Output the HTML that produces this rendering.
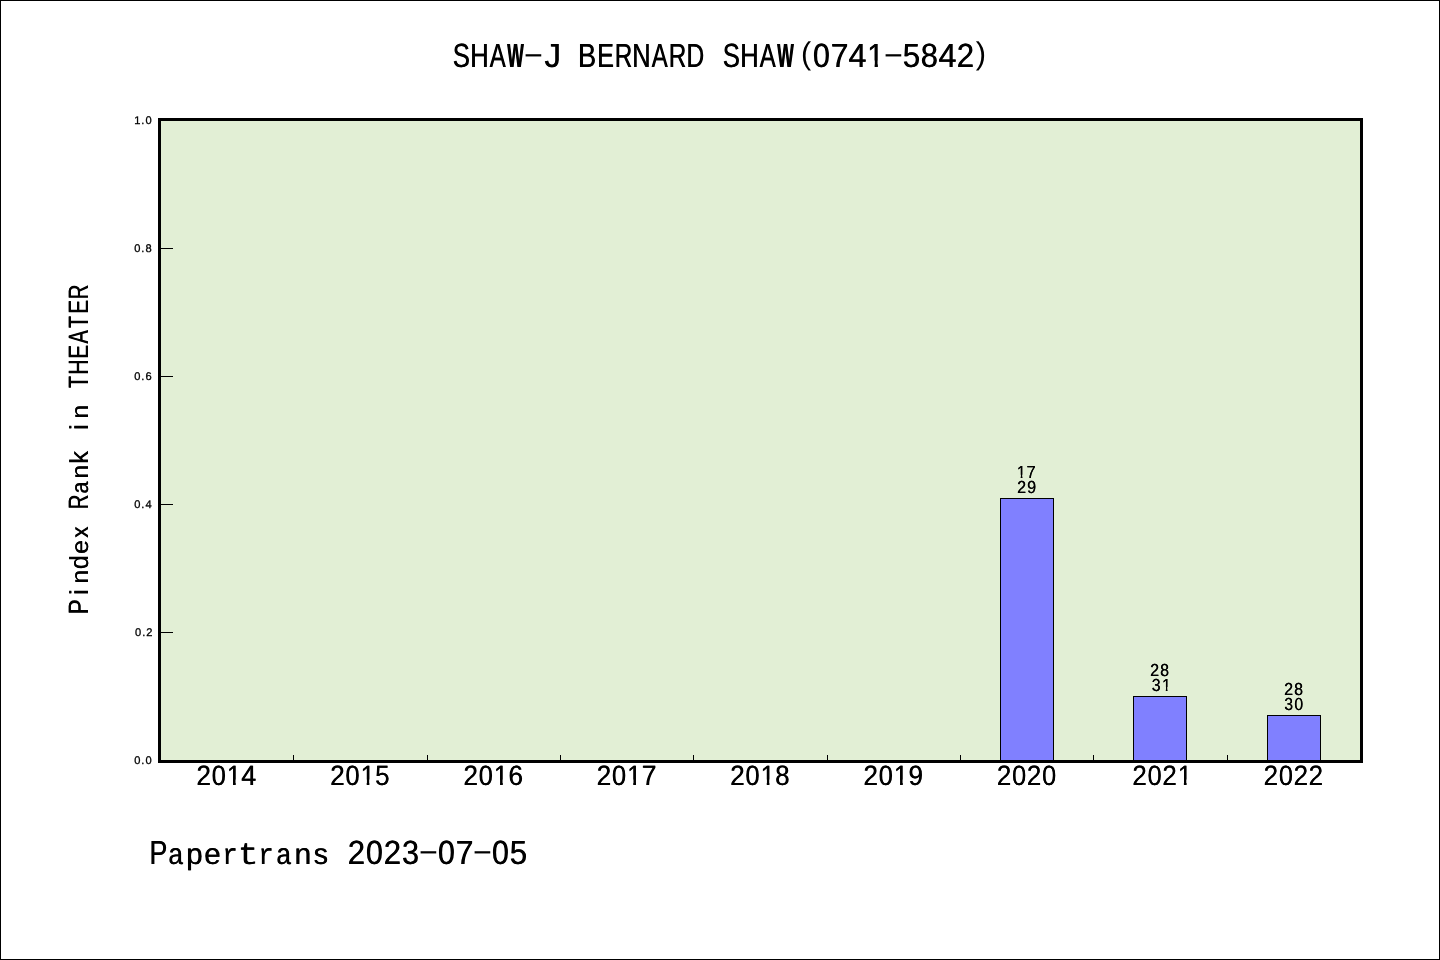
<!DOCTYPE html>
<html lang="en">
<head>
<meta charset="utf-8">
<title>SHAW-J BERNARD SHAW (0741-5842)</title>
<style>
html,body{margin:0;padding:0;background:#fff}
body{width:1440px;height:960px;overflow:hidden}
svg{display:block;will-change:transform}
svg{font-family:"Liberation Sans",sans-serif;fill:#000;text-rendering:geometricPrecision}
.tk{stroke:#000;stroke-width:1}
.yt{font-size:11.1px;text-anchor:middle;stroke:#000;stroke-width:.3px}
</style>
</head>
<body>
<svg width="1440" height="960" viewBox="0 0 1440 960">
<defs>
<clipPath id="one280"><path d="M-27.98 -27.98H27.98V-5.60H9.55V2.80H7.00V-5.60H-27.98Z"/></clipPath>
<clipPath id="one174"><path d="M-17.43 -17.43H17.43V-3.49H5.96V1.74H4.34V-3.49H-17.43Z"/></clipPath>
<clipPath id="one336"><path d="M-33.59 -33.59H33.59V-6.72H11.46V3.36H8.41V-6.72H-33.59Z"/></clipPath>
</defs>
<rect x="0.5" y="0.5" width="1439" height="959" fill="#fff" stroke="#000" stroke-width="1"/>
<rect x="159.5" y="119.5" width="1202" height="642" fill="#e2efd5"/>
<rect x="1000.5" y="498.5" width="53" height="263.0" fill="#8080ff" stroke="#000" stroke-width="1"/>
<rect x="1133.5" y="696.5" width="53" height="65.0" fill="#8080ff" stroke="#000" stroke-width="1"/>
<rect x="1267.5" y="715.5" width="53" height="46.0" fill="#8080ff" stroke="#000" stroke-width="1"/>
<line x1="293.5" y1="755" x2="293.5" y2="761" class="tk"/>
<line x1="427.5" y1="755" x2="427.5" y2="761" class="tk"/>
<line x1="560.5" y1="755" x2="560.5" y2="761" class="tk"/>
<line x1="693.5" y1="755" x2="693.5" y2="761" class="tk"/>
<line x1="827.5" y1="755" x2="827.5" y2="761" class="tk"/>
<line x1="960.5" y1="755" x2="960.5" y2="761" class="tk"/>
<line x1="1093.5" y1="755" x2="1093.5" y2="761" class="tk"/>
<line x1="1227.5" y1="755" x2="1227.5" y2="761" class="tk"/>
<line x1="160" y1="248.5" x2="173" y2="248.5" class="tk"/>
<line x1="160" y1="376.5" x2="173" y2="376.5" class="tk"/>
<line x1="160" y1="504.5" x2="173" y2="504.5" class="tk"/>
<line x1="160" y1="632.5" x2="173" y2="632.5" class="tk"/>
<rect x="159.5" y="119.5" width="1202" height="642" fill="none" stroke="#000" stroke-width="3"/>
<text class="yt" x="137.4 142.8 148.7" y="124.1">1.0</text>
<text class="yt" x="137.4 142.8 148.7" y="252.1">0.8</text>
<text class="yt" x="137.4 142.8 148.7" y="380.1">0.6</text>
<text class="yt" x="137.4 142.8 148.7" y="508.1">0.4</text>
<text class="yt" x="138.2 143.7 149.4" y="636.1">0.2</text>
<text class="yt" x="137.4 142.8 148.7" y="764.1">0.0</text>
<g class="m"><g id="m1"><text transform="translate(196.28 785.00) scale(0.9281 1)" font-size="27.98">2</text><text transform="translate(211.57 785.00) scale(0.9024 1)" font-size="27.98">0</text><text transform="translate(226.77 785.00) scale(0.8905 1)" font-size="27.98" clip-path="url(#one280)">1</text><text transform="translate(241.11 785.00) scale(0.9646 1)" font-size="27.98">4</text></g><use href="#m1" x="0.42"/></g>
<g class="m"><g id="m2"><text transform="translate(329.96 785.00) scale(0.9281 1)" font-size="27.98">2</text><text transform="translate(345.25 785.00) scale(0.9024 1)" font-size="27.98">0</text><text transform="translate(360.46 785.00) scale(0.8905 1)" font-size="27.98" clip-path="url(#one280)">1</text><text transform="translate(374.94 785.00) scale(0.9291 1)" font-size="27.98">5</text></g><use href="#m2" x="0.42"/></g>
<g class="m"><g id="m3"><text transform="translate(463.33 785.00) scale(0.9281 1)" font-size="27.98">2</text><text transform="translate(478.62 785.00) scale(0.9024 1)" font-size="27.98">0</text><text transform="translate(493.83 785.00) scale(0.8905 1)" font-size="27.98" clip-path="url(#one280)">1</text><text transform="translate(508.25 785.00) scale(0.9314 1)" font-size="27.98">6</text></g><use href="#m3" x="0.42"/></g>
<g class="m"><g id="m4"><text transform="translate(596.57 785.00) scale(0.9281 1)" font-size="27.98">2</text><text transform="translate(611.86 785.00) scale(0.9024 1)" font-size="27.98">0</text><text transform="translate(627.07 785.00) scale(0.8905 1)" font-size="27.98" clip-path="url(#one280)">1</text><text transform="translate(641.60 785.00) scale(0.9489 1)" font-size="27.98">7</text></g><use href="#m4" x="0.42"/></g>
<g class="m"><g id="m5"><text transform="translate(730.03 785.00) scale(0.9281 1)" font-size="27.98">2</text><text transform="translate(745.32 785.00) scale(0.9024 1)" font-size="27.98">0</text><text transform="translate(760.53 785.00) scale(0.8905 1)" font-size="27.98" clip-path="url(#one280)">1</text><text transform="translate(775.05 785.00) scale(0.9193 1)" font-size="27.98">8</text></g><use href="#m5" x="0.42"/></g>
<g class="m"><g id="m6"><text transform="translate(863.33 785.00) scale(0.9281 1)" font-size="27.98">2</text><text transform="translate(878.62 785.00) scale(0.9024 1)" font-size="27.98">0</text><text transform="translate(893.83 785.00) scale(0.8905 1)" font-size="27.98" clip-path="url(#one280)">1</text><text transform="translate(908.36 785.00) scale(0.9304 1)" font-size="27.98">9</text></g><use href="#m6" x="0.42"/></g>
<g class="m"><g id="m7"><text transform="translate(996.63 785.00) scale(0.9281 1)" font-size="27.98">2</text><text transform="translate(1011.92 785.00) scale(0.9024 1)" font-size="27.98">0</text><text transform="translate(1026.63 785.00) scale(0.9281 1)" font-size="27.98">2</text><text transform="translate(1041.92 785.00) scale(0.9024 1)" font-size="27.98">0</text></g><use href="#m7" x="0.42"/></g>
<g class="m"><g id="m8"><text transform="translate(1132.15 785.00) scale(0.9281 1)" font-size="27.98">2</text><text transform="translate(1147.44 785.00) scale(0.9024 1)" font-size="27.98">0</text><text transform="translate(1162.15 785.00) scale(0.9281 1)" font-size="27.98">2</text><text transform="translate(1177.65 785.00) scale(0.8905 1)" font-size="27.98" clip-path="url(#one280)">1</text></g><use href="#m8" x="0.42"/></g>
<g class="m"><g id="m9"><text transform="translate(1263.40 785.00) scale(0.9281 1)" font-size="27.98">2</text><text transform="translate(1278.69 785.00) scale(0.9024 1)" font-size="27.98">0</text><text transform="translate(1293.40 785.00) scale(0.9281 1)" font-size="27.98">2</text><text transform="translate(1308.40 785.00) scale(0.9281 1)" font-size="27.98">2</text></g><use href="#m9" x="0.42"/></g>
<g class="m"><g id="m10"><text transform="translate(1016.82 478.20) scale(0.9061 1)" font-size="17.43" clip-path="url(#one174)">1</text><text transform="translate(1026.49 478.20) scale(0.9500 1)" font-size="17.43">7</text></g><use href="#m10" x="0.13"/></g>
<g class="m"><g id="m11"><text transform="translate(1017.06 492.60) scale(0.9294 1)" font-size="17.43">2</text><text transform="translate(1027.07 492.60) scale(0.9315 1)" font-size="17.43">9</text></g><use href="#m11" x="0.13"/></g>
<g class="m"><g id="m12"><text transform="translate(1150.08 676.20) scale(0.9294 1)" font-size="17.43">2</text><text transform="translate(1160.08 676.20) scale(0.9203 1)" font-size="17.43">8</text></g><use href="#m12" x="0.13"/></g>
<g class="m"><g id="m13"><text transform="translate(1151.66 690.60) scale(0.9109 1)" font-size="17.43">3</text><text transform="translate(1161.89 690.60) scale(0.9061 1)" font-size="17.43" clip-path="url(#one174)">1</text></g><use href="#m13" x="0.13"/></g>
<g class="m"><g id="m14"><text transform="translate(1284.08 695.20) scale(0.9294 1)" font-size="17.43">2</text><text transform="translate(1294.08 695.20) scale(0.9203 1)" font-size="17.43">8</text></g><use href="#m14" x="0.13"/></g>
<g class="m"><g id="m15"><text transform="translate(1284.20 709.60) scale(0.9109 1)" font-size="17.43">3</text><text transform="translate(1294.25 709.60) scale(0.9034 1)" font-size="17.43">0</text></g><use href="#m15" x="0.13"/></g>
<g class="m"><g id="m16"><text transform="translate(452.58 67.20) scale(0.7653 1)" font-size="33.59">S</text><text transform="translate(469.91 67.20) scale(0.7600 1)" font-size="33.59">H</text><text transform="translate(489.43 67.20) scale(0.7129 1)" font-size="33.59">A</text><text transform="translate(506.92 67.20) scale(0.5218 1)" font-size="33.59" font-weight="bold">W</text></g><use href="#m16" x="0.50"/><text transform="translate(522.72 63.01) scale(2.2204 1)" font-size="28.89">-</text><g id="m17"><text transform="translate(544.19 67.20) scale(0.9827 1)" font-size="33.59">J</text><text transform="translate(577.77 67.20) scale(0.8107 1)" font-size="33.59">B</text><text transform="translate(597.01 67.20) scale(0.7437 1)" font-size="33.59">E</text><text transform="translate(614.38 67.20) scale(0.7240 1)" font-size="33.59">R</text><text transform="translate(631.97 67.20) scale(0.7571 1)" font-size="33.59">N</text><text transform="translate(651.43 67.20) scale(0.7129 1)" font-size="33.59">A</text><text transform="translate(668.38 67.20) scale(0.7240 1)" font-size="33.59">R</text><text transform="translate(686.37 67.20) scale(0.7285 1)" font-size="33.59">D</text><text transform="translate(722.58 67.20) scale(0.7653 1)" font-size="33.59">S</text><text transform="translate(739.91 67.20) scale(0.7600 1)" font-size="33.59">H</text><text transform="translate(759.43 67.20) scale(0.7129 1)" font-size="33.59">A</text><text transform="translate(776.92 67.20) scale(0.5218 1)" font-size="33.59" font-weight="bold">W</text></g><use href="#m17" x="0.50"/><text transform="translate(800.91 63.81) scale(0.9675 1)" font-size="31.58">(</text><g id="m18"><text transform="translate(812.87 67.20) scale(0.9026 1)" font-size="33.59">0</text><text transform="translate(830.57 67.20) scale(0.9492 1)" font-size="33.59">7</text><text transform="translate(848.32 67.20) scale(0.9647 1)" font-size="33.59">4</text><text transform="translate(867.12 67.20) scale(0.8912 1)" font-size="33.59" clip-path="url(#one336)">1</text></g><use href="#m18" x="0.50"/><text transform="translate(882.72 63.01) scale(2.2204 1)" font-size="28.89">-</text><g id="m19"><text transform="translate(902.50 67.20) scale(0.9293 1)" font-size="33.59">5</text><text transform="translate(920.55 67.20) scale(0.9195 1)" font-size="33.59">8</text><text transform="translate(938.32 67.20) scale(0.9647 1)" font-size="33.59">4</text><text transform="translate(956.52 67.20) scale(0.9283 1)" font-size="33.59">2</text></g><use href="#m19" x="0.50"/><text transform="translate(975.71 63.81) scale(0.9783 1)" font-size="31.58">)</text></g>
<g class="m"><g id="m20"><text transform="translate(149.37 864.10) scale(0.7946 1)" font-size="33.59">P</text><text transform="translate(168.28 864.10) scale(0.8739 1)" font-size="29.56">a</text><text transform="translate(185.89 864.10) scale(0.9969 1)" font-size="29.56">p</text><text transform="translate(204.03 864.10) scale(1.0021 1)" font-size="29.56">e</text><text transform="translate(222.14 864.10) scale(0.8545 1)" font-size="29.56" font-family="Liberation Mono, monospace">r</text><text transform="translate(237.65 864.10) scale(1.0876 1)" font-size="31.24" font-family="Liberation Mono, monospace">t</text><text transform="translate(258.14 864.10) scale(0.8545 1)" font-size="29.56" font-family="Liberation Mono, monospace">r</text><text transform="translate(276.28 864.10) scale(0.8739 1)" font-size="29.56">a</text><text transform="translate(294.24 864.10) scale(1.0209 1)" font-size="29.56">n</text><text transform="translate(313.40 864.10) scale(0.9625 1)" font-size="29.56">s</text><text transform="translate(347.52 864.10) scale(0.9283 1)" font-size="33.59">2</text><text transform="translate(365.87 864.10) scale(0.9026 1)" font-size="33.59">0</text><text transform="translate(383.52 864.10) scale(0.9283 1)" font-size="33.59">2</text><text transform="translate(401.77 864.10) scale(0.9101 1)" font-size="33.59">3</text></g><use href="#m20" x="0.50"/><text transform="translate(417.72 859.91) scale(2.2204 1)" font-size="28.89">-</text><g id="m21"><text transform="translate(437.87 864.10) scale(0.9026 1)" font-size="33.59">0</text><text transform="translate(455.57 864.10) scale(0.9492 1)" font-size="33.59">7</text></g><use href="#m21" x="0.50"/><text transform="translate(471.72 859.91) scale(2.2204 1)" font-size="28.89">-</text><g id="m22"><text transform="translate(491.87 864.10) scale(0.9026 1)" font-size="33.59">0</text><text transform="translate(509.50 864.10) scale(0.9293 1)" font-size="33.59">5</text></g><use href="#m22" x="0.50"/></g>
<g class="m" transform="translate(88.35 607) rotate(-90)"><g id="m23"><text transform="translate(-7.52 0.00) scale(0.7944 1)" font-size="27.98">P</text><text transform="translate(12.03 0.00) scale(0.9298 1)" font-size="26.03">i</text><text transform="translate(23.20 0.00) scale(1.0522 1)" font-size="23.89">n</text><text transform="translate(37.66 0.00) scale(0.9546 1)" font-size="26.03">d</text><text transform="translate(53.03 0.00) scale(1.0328 1)" font-size="23.89">e</text><text transform="translate(69.12 0.00) scale(0.9482 1)" font-size="23.89">x</text><text transform="translate(97.49 0.00) scale(0.7238 1)" font-size="27.98">R</text><text transform="translate(113.24 0.00) scale(0.9007 1)" font-size="23.89">a</text><text transform="translate(128.20 0.00) scale(1.0522 1)" font-size="23.89">n</text><text transform="translate(143.02 0.00) scale(0.9849 1)" font-size="26.03">k</text><text transform="translate(177.03 0.00) scale(0.9298 1)" font-size="26.03">i</text><text transform="translate(188.20 0.00) scale(1.0522 1)" font-size="23.89">n</text><text transform="translate(218.78 0.00) scale(0.7032 1)" font-size="27.98">T</text><text transform="translate(232.09 0.00) scale(0.7598 1)" font-size="27.98">H</text><text transform="translate(248.01 0.00) scale(0.7435 1)" font-size="27.98">E</text><text transform="translate(263.36 0.00) scale(0.7128 1)" font-size="27.98">A</text><text transform="translate(278.78 0.00) scale(0.7032 1)" font-size="27.98">T</text><text transform="translate(293.01 0.00) scale(0.7435 1)" font-size="27.98">E</text><text transform="translate(307.49 0.00) scale(0.7238 1)" font-size="27.98">R</text></g><use href="#m23" x="0.42"/></g>
</svg>
</body>
</html>
